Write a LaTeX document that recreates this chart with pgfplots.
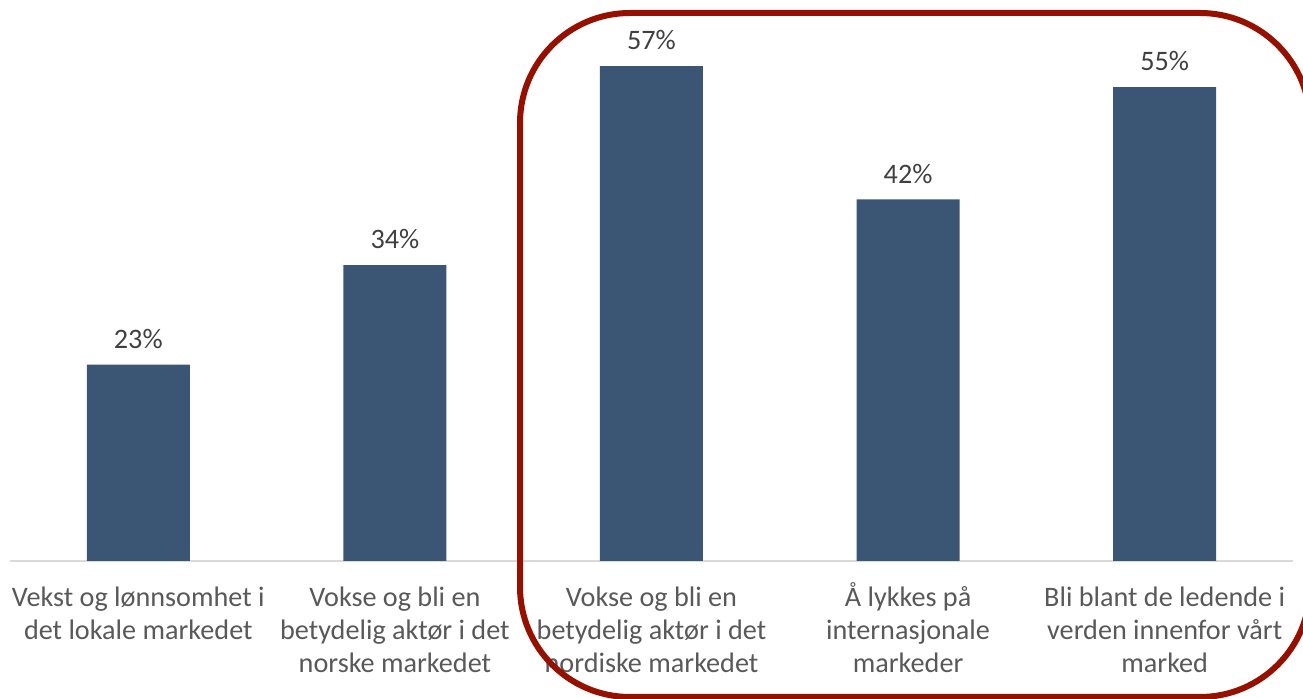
\documentclass[border=0pt]{standalone}
\usepackage{fontspec}
\setmainfont{Carlito}
\usepackage{pgfplots}
\pgfplotsset{compat=1.18}
\definecolor{barblue}{HTML}{3B5675}
\definecolor{txtgray}{HTML}{595959}
\definecolor{lblgray}{HTML}{404040}
\definecolor{axgray}{HTML}{D9D9D9}
\definecolor{boxred}{RGB}{150,16,0}
\begin{document}
\begin{tikzpicture}
\useasboundingbox (-5pt,-69pt) rectangle (646.5pt,280.5pt);
\clip (-5pt,-69pt) rectangle (646.5pt,280.5pt);
\begin{axis}[
  at={(0pt,0pt)}, anchor=south west,
  scale only axis, width=641.5pt, height=280.5pt,
  xmin=-0.5, xmax=4.5, ymin=0, ymax=64.86,
  axis y line=none, axis x line*=bottom,
  x axis line style={draw=axgray, line width=1pt, -},
  xtick=data, xtick style={draw=none},
  xticklabels={{Vekst og lønnsomhet i\\det lokale markedet},{Vokse og bli en\\betydelig aktør i det\\norske markedet},{Vokse og bli en\\betydelig aktør i det\\nordiske markedet},{\smash{Å} lykkes på\\internasjonale\\markeder},{Bli blant de ledende i\\verden innenfor vårt\\marked}},
  xticklabel style={align=center, text=txtgray, font=\fontsize{14.1}{16.5}\selectfont, anchor=north, yshift=-5pt},
  ybar, bar width=51.5pt,
  nodes near coords, point meta=explicit symbolic,
  every node near coord/.append style={text=lblgray, font=\fontsize{14.1}{16.5}\selectfont, yshift=4.5pt},
  clip=false,
]
\addplot[fill=barblue, draw=none] table[meta=lbl] {
x y lbl
0 22.7 23\%
1 34.2 34\%
2 57.2 57\%
3 41.8 42\%
4 54.8 55\%
};
\end{axis}
\draw[boxred, line width=3pt, rounded corners=55pt] (255pt,-68pt) rectangle (650pt,274pt);
\end{tikzpicture}
\end{document}
